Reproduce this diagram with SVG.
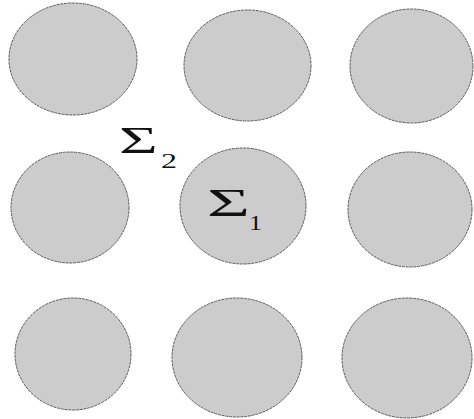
<svg xmlns="http://www.w3.org/2000/svg" width="474" height="419" viewBox="0 0 474 419">
<style>
.c{fill:#cccccc;stroke:#5a5a5a;stroke-width:1;stroke-dasharray:3 0.8}
.s{font-family:"Liberation Serif","DejaVu Serif",serif;fill:#111111}
</style>
<rect width="474" height="419" fill="#ffffff"/>
<g id="c11"><ellipse class="c" cx="73" cy="59" rx="64" ry="56"/></g>
<g id="c12"><ellipse class="c" cx="247.5" cy="65.5" rx="63.5" ry="55.5"/></g>
<g id="c13"><ellipse class="c" cx="411.5" cy="66" rx="61.5" ry="57"/></g>
<g id="c21"><ellipse class="c" cx="70" cy="207.5" rx="59" ry="55.5"/></g>
<g id="c22"><ellipse class="c" cx="243" cy="206" rx="63" ry="58"/></g>
<g id="c23"><ellipse class="c" cx="410" cy="209.5" rx="62" ry="57.5"/></g>
<g id="c31"><ellipse class="c" cx="73" cy="354" rx="58" ry="56"/></g>
<g id="c32"><ellipse class="c" cx="237" cy="357.5" rx="65" ry="59.5"/></g>
<g id="c33"><ellipse class="c" cx="407" cy="358" rx="65" ry="60"/></g>
<g id="label2">
<text class="s" font-size="38" transform="translate(119,153) scale(1.75,1)">Σ</text>
<text class="s" font-size="20" transform="translate(161,168) scale(1.6,1)">2</text>
</g>
<g id="label1">
<text class="s" font-size="41" transform="translate(207,216) scale(1.8,1)">Σ</text>
<text class="s" font-size="20" transform="translate(249,230) scale(1.3,1)">1</text>
</g>
</svg>
